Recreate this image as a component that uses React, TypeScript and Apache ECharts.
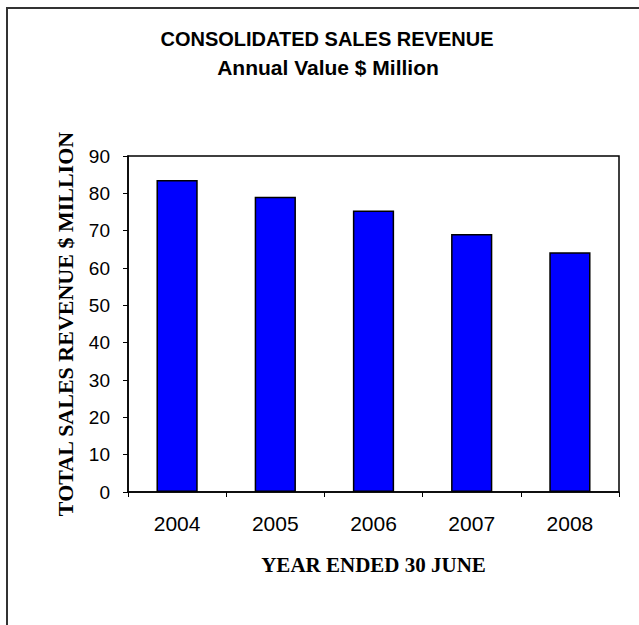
import React, { useEffect, useRef } from "react";
import * as echarts from "echarts";

const categories = ["2004", "2005", "2006", "2007", "2008"];
const revenue = [83.6, 79.1, 75.4, 69.1, 64.2];
const yTicks = { min: 0, max: 90, interval: 10 };
const titleText = "CONSOLIDATED SALES REVENUE";
const subtitleText = "Annual Value $ Million";
const xAxisTitle = "YEAR ENDED 30 JUNE";
const yAxisTitle = "TOTAL SALES REVENUE $ MILLION";

export default function App() {
  const ref = useRef<HTMLDivElement>(null);
  useEffect(() => {
    if (!ref.current) return;
    const chart = echarts.init(ref.current, null, { renderer: "svg" });
    chart.setOption({
      animation: false,
      backgroundColor: "#fff",
      grid: {
        left: 128,
        top: 156,
        right: 20,
        bottom: 133,
        show: true,
        borderColor: "#000",
        borderWidth: 1.5,
        backgroundColor: "transparent",
      },
      graphic: [
        {
          type: "rect",
          shape: { x: 7, y: 8, width: 700, height: 700 },
          style: { fill: "none", stroke: "#333", lineWidth: 2 },
          silent: true,
        },
        {
          type: "text",
          x: 327,
          y: 38.5,
          style: {
            text: titleText,
            font: "bold 20px 'Liberation Sans', Arial, sans-serif",
            fill: "#000",
            align: "center",
            verticalAlign: "middle",
          },
        },
        {
          type: "text",
          x: 328,
          y: 67.5,
          style: {
            text: subtitleText,
            font: "bold 21px 'Liberation Sans', Arial, sans-serif",
            fill: "#000",
            align: "center",
            verticalAlign: "middle",
          },
        },
      ],
      xAxis: {
        type: "category",
        data: categories,
        boundaryGap: true,
        name: xAxisTitle,
        nameLocation: "middle",
        nameGap: 62,
        nameTextStyle: {
          fontFamily: "'Liberation Serif', 'Times New Roman', serif",
          fontWeight: "bold",
          fontSize: 21,
          color: "#000",
        },
        axisLine: { show: true, lineStyle: { color: "#000", width: 1.5 } },
        axisTick: { show: true, length: 5, lineStyle: { color: "#000", width: 1 } },
        axisLabel: {
          margin: 21,
          fontFamily: "'Liberation Sans', Arial, sans-serif",
          fontSize: 21,
          color: "#000",
        },
        splitLine: { show: false },
      },
      yAxis: {
        type: "value",
        min: yTicks.min,
        max: yTicks.max,
        interval: yTicks.interval,
        name: yAxisTitle,
        nameLocation: "middle",
        nameGap: 52,
        nameTextStyle: {
          fontFamily: "'Liberation Serif', 'Times New Roman', serif",
          fontWeight: "bold",
          fontSize: 22,
          color: "#000",
        },
        axisLine: { show: true, lineStyle: { color: "#000", width: 1.5 } },
        axisTick: { show: true, length: 5, lineStyle: { color: "#000", width: 1 } },
        axisLabel: {
          margin: 18,
          fontFamily: "'Liberation Sans', Arial, sans-serif",
          fontSize: 19,
          color: "#000",
        },
        splitLine: { show: false },
      },
      series: [
        {
          type: "bar",
          data: revenue,
          barWidth: "42%",
          itemStyle: { color: "#0000FF", borderColor: "#000", borderWidth: 1.5 },
        },
      ],
    });
    return () => chart.dispose();
  }, []);
  return (
    <div
      ref={ref}
      style={{ position: "absolute", left: 0, top: 0, width: 639, height: 625 }}
    />
  );
}
